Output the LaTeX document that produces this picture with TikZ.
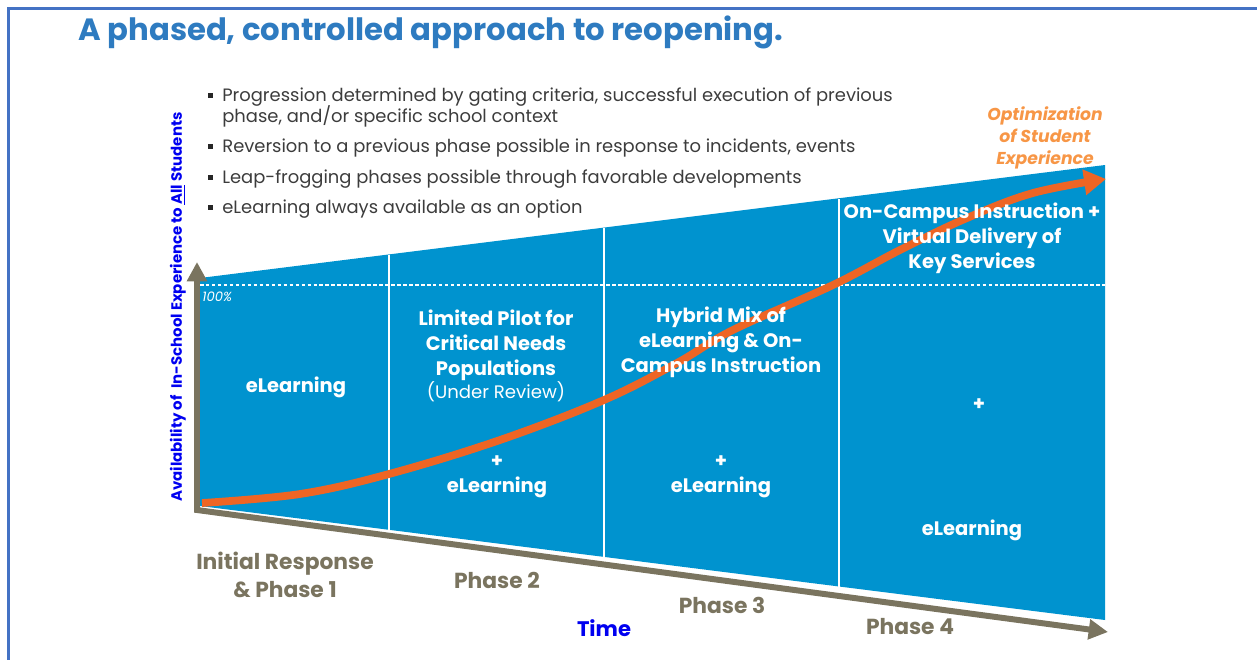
\documentclass[tikz,border=0pt]{standalone}
\usepackage{fontspec}
\setmainfont{Poppins}
\usetikzlibrary{arrows.meta}

\definecolor{titleblue}{HTML}{2E7BC0}
\definecolor{frameblue}{HTML}{4472C4}
\definecolor{phaseblue}{HTML}{0093CF}
\definecolor{axisbrown}{HTML}{7A745F}
\definecolor{curveorange}{HTML}{EE6524}
\definecolor{optorange}{HTML}{F79646}
\definecolor{textgrey}{HTML}{3C3C3C}
\definecolor{labelblue}{HTML}{0000F0}

\tikzset{
  phasetext/.style={text=white, font=\bfseries\fontsize{11.1}{14.2}\selectfont, align=center},
  phaselabel/.style={text=axisbrown, font=\bfseries\fontsize{12.4}{16}\selectfont, align=center},
  bulletline/.style={text=textgrey, font=\fontsize{10.2}{12}\selectfont, anchor=base west, inner sep=0pt},
  divider/.style={white, line width=0.8pt},
  axisline/.style={axisbrown, line width=3.4pt, line join=miter},
}

\begin{document}
\begin{tikzpicture}[x=0.02cm,y=-0.02cm]
\useasboundingbox (0,0) rectangle (1257,660);
% frame
\draw[frameblue, line width=1.2pt] (1257,8.5) -- (8.5,8.5) -- (8.5,660);
\node[text=titleblue, font=\bfseries\fontsize{17.5}{20}\selectfont, anchor=west, inner sep=0pt] (title) at (78,32) {A phased, controlled approach to reopening.};

% bullets
\foreach \y in {95,146,177,207}
  \fill[black!85] (207.5,\y-2.5) rectangle (212.5,\y+2.5);
\node[bulletline] (b1) at (222,101) {Progression determined by gating criteria, successful execution of previous};
\node[bulletline] (b1b) at (222,122) {phase, and/or specific school context};
\node[bulletline] (b2) at (222,152) {Reversion to a previous phase possible in response to incidents, events};
\node[bulletline] (b3) at (222,183) {Leap-frogging phases possible through favorable developments};
\node[bulletline] (b4) at (222,213) {eLearning always available as an option};

% phase area
\fill[phaseblue] (200,278) -- (1105,165) -- (1105,620) -- (200,506) -- cycle;
\foreach \x in {389,604,839}
  \draw[divider] (\x,{278-0.1238*(\x-200)}) -- (\x,{506+0.126*(\x-200)});
\draw[white, line width=0.6pt, dash pattern=on 2pt off 1.4pt] (200,285) -- (1105,285);
\node[text=white, font=\itshape\fontsize{7.5}{8}\selectfont, anchor=west, inner sep=0pt] (full) at (202,297) {100\%};

% axes
\coordinate (ytip) at (197,262);
\coordinate (origin) at (197,510);
\coordinate (xtip) at (1108,632);
\draw[axisline, {Triangle[length=11pt,width=11pt]}-{Triangle[length=11pt,width=11pt]}] (ytip) -- (origin) -- (xtip);

% progression curve
\draw[curveorange, line width=4.4pt, -{Triangle[length=12.5pt,width=14pt]}]
  plot[smooth, tension=0.6] coordinates {(202,503) (300,494) (389,474) (500,440) (604,400) (677,363) (733,330) (833,285) (900,250) (967,218) (1033,193) (1106,179)};

% phase contents
\node[phasetext] (p1) at (296,387) {eLearning};
\node[phasetext] (p2) at (496,356) {Limited Pilot for\\Critical Needs\\Populations\\[-1pt]{\mdseries\fontsize{10.3}{12}\selectfont(Under Review)}};
\node[phasetext] (p2plus) at (497,462) {+};
\node[phasetext] (p2e) at (497,487) {eLearning};
\node[phasetext] (p3) at (721,342) {Hybrid Mix of\\eLearning \& On-\\Campus Instruction};
\node[phasetext] (p3plus) at (721,462) {+};
\node[phasetext] (p3e) at (721,487) {eLearning};
\node[phasetext] (p4) at (972,238) {On-Campus Instruction +\\Virtual Delivery of\\Key Services};
\node[phasetext] (p4plus) at (979,405) {+};
\node[phasetext] (p4e) at (972,530) {eLearning};

\node[text=optorange, font=\bfseries\itshape\fontsize{9.8}{12.5}\selectfont, align=center] (optim) at (1045,138) {Optimization\\of Student\\Experience};

% axis labels
\node[phaselabel] (ph1) at (285,575) {Initial Response\\\& Phase 1};
\node[phaselabel] (ph2) at (497,580) {Phase 2};
\node[phaselabel] (ph3) at (722,605) {Phase 3};
\node[phaselabel] (ph4) at (910,627) {Phase 4};
\node[text=labelblue, font=\bfseries\fontsize{12}{14}\selectfont] (time) at (604,628) {Time};
\node[text=labelblue, font=\bfseries\fontsize{8.5}{10}\selectfont, rotate=90] (avail) at (178,307) {Availability of\ \ In-School Experience to \underline{All} Students};
\end{tikzpicture}
\end{document}
